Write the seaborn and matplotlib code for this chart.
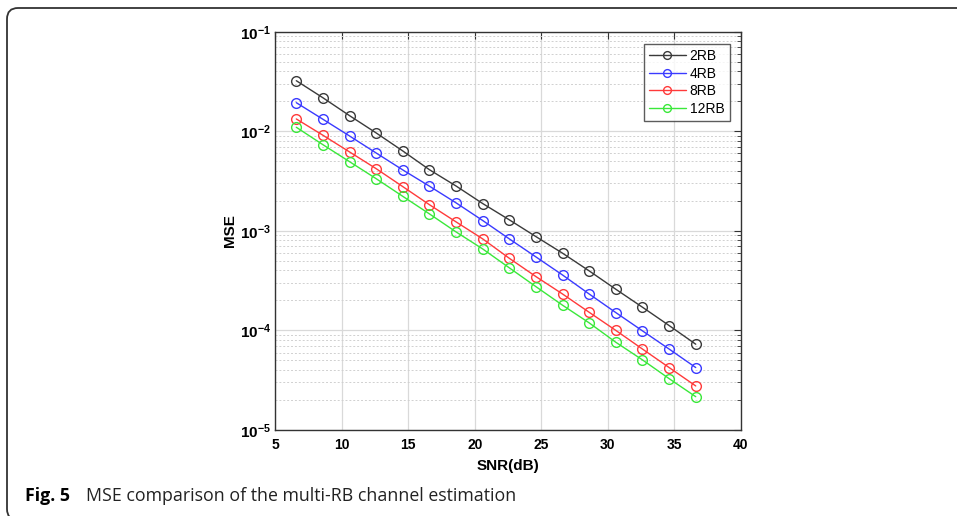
import matplotlib
matplotlib.use("Agg")
import matplotlib.pyplot as plt
import matplotlib.ticker as mticker
import matplotlib.transforms as mtransforms
from matplotlib.patches import FancyBboxPatch
import numpy as np
import pandas as pd
import seaborn as sns

# ---------------- data ----------------
snr_db = [6.6, 8.6, 10.6, 12.6, 14.6, 16.6, 18.6, 20.6, 22.6, 24.6, 26.6, 28.6, 30.6, 32.6, 34.6, 36.6]
mse_2rb = [0.0322, 0.0217, 0.01435, 0.00962, 0.00634, 0.00411, 0.00282, 0.00188, 0.00129,
           8.75e-4, 5.96e-4, 3.96e-4, 2.59e-4, 1.71e-4, 1.12e-4, 7.27e-5]
mse_4rb = [0.01937, 0.0132, 0.00897, 0.00605, 0.00409, 0.00281, 0.00191, 0.00127, 8.3e-4,
           5.47e-4, 3.6e-4, 2.32e-4, 1.51e-4, 9.9e-5, 6.5e-5, 4.24e-5]
mse_8rb = [0.0133, 0.00912, 0.0062, 0.00421, 0.00278, 0.00183, 0.00123, 8.3e-4, 5.3e-4,
           3.47e-4, 2.32e-4, 1.52e-4, 1.0e-4, 6.5e-5, 4.24e-5, 2.77e-5]
mse_12rb = [0.01097, 0.00733, 0.00495, 0.00334, 0.00222, 0.00148, 9.75e-4, 6.58e-4, 4.25e-4,
            2.75e-4, 1.79e-4, 1.19e-4, 7.6e-5, 5.06e-5, 3.28e-5, 2.16e-5]
series_names = ["2RB", "4RB", "8RB", "12RB"]
series_values = [mse_2rb, mse_4rb, mse_8rb, mse_12rb]
x_ticks = [5, 10, 15, 20, 25, 30, 35, 40]
y_ticks = [1e-5, 1e-4, 1e-3, 1e-2, 1e-1]
x_label = "SNR(dB)"
y_label = "MSE"
caption_bold = "Fig. 5"
caption_text = "MSE comparison of the multi-RB channel estimation"

colors = ["#3a3a3a", "#3a3aff", "#ff3a3a", "#3ae83a"]

# ---------------- style ----------------
sns.set_theme(style="white")
plt.rcParams["font.family"] = ["Liberation Sans", "DejaVu Sans"]
plt.rcParams["mathtext.fontset"] = "custom"
plt.rcParams["mathtext.rm"] = "Liberation Sans:bold"
plt.rcParams["mathtext.bf"] = "Liberation Sans:bold"
plt.rcParams["mathtext.it"] = "Liberation Sans:bold"
plt.rcParams["text.color"] = "black"
plt.rcParams["axes.labelcolor"] = "black"

W, H = 957, 516
fig = plt.figure(figsize=(W / 100, H / 100), dpi=100)
fig.patch.set_facecolor("white")

# outer rounded frame (pixel coordinates, origin bottom-left)
frame = FancyBboxPatch((7, H - 520), W + 40, 520 - 8,
                       boxstyle="round,pad=0,rounding_size=11",
                       transform=mtransforms.IdentityTransform(), fill=False,
                       edgecolor="#333333", linewidth=1.3, clip_on=False)
fig.patches.append(frame)

left, right, top, bottom = 275, 741, 31.7, 430
ax = fig.add_axes([left / W, 1 - bottom / H, (right - left) / W, (bottom - top) / H])

rows = []
for name, vals in zip(series_names, series_values):
    for x, v in zip(snr_db, vals):
        rows.append({"SNR": x, "MSE": v, "series": name})
df = pd.DataFrame(rows)

for name, col in zip(series_names, colors):
    sub = df[df["series"] == name]
    sns.lineplot(data=sub, x="SNR", y="MSE", ax=ax, color=col, linewidth=1.0,
                 marker="o", markersize=7, markerfacecolor="none",
                 markeredgecolor=col, markeredgewidth=1.0, label=name)

ax.set_yscale("log")
ax.set_xlim(5, 40)
ax.set_ylim(1e-5, 1e-1)
ax.set_xticks(x_ticks)
ax.set_xticklabels([str(t) for t in x_ticks], fontweight="bold", fontsize=10)
ax.yaxis.set_major_locator(mticker.FixedLocator(y_ticks))
ax.yaxis.set_major_formatter(mticker.FuncFormatter(
    lambda v, p: r"$\mathbf{10^{%d}}$" % int(round(np.log10(v)))))
ax.yaxis.set_minor_locator(mticker.LogLocator(base=10, subs=np.arange(2, 10), numticks=20))
ax.yaxis.set_minor_formatter(mticker.NullFormatter())
for lab in ax.get_yticklabels():
    lab.set_fontsize(11)

ax.tick_params(axis="both", which="both", direction="in", top=True, right=True,
               colors="#333333", labelcolor="black")
ax.tick_params(axis="both", which="major", length=5, width=0.8)
ax.tick_params(axis="x", which="major", pad=6)
ax.tick_params(axis="y", which="major", pad=3)
ax.tick_params(axis="y", which="minor", length=3, width=0.6)

ax.grid(True, which="major", color="#d9d9d9", linestyle="-", linewidth=0.9)
ax.grid(True, which="minor", axis="y", color="#d0d0d0", linestyle=(0, (2, 2)), linewidth=0.7)
ax.set_axisbelow(True)
for s in ax.spines.values():
    s.set_color("#333333")
    s.set_linewidth(1.0)
    s.set_visible(True)

ax.set_xlabel(x_label, fontweight="bold", fontsize=11, labelpad=5, color="black")
ax.set_ylabel(y_label, fontweight="bold", fontsize=11, labelpad=2, color="black")

leg = ax.legend(loc="upper right", bbox_to_anchor=(1 - 11 / (right - left), 1 - 12 / (bottom - top)),
                frameon=True, fancybox=False, edgecolor="#333333", fontsize=10,
                handlelength=2.6, handletextpad=0.3, borderpad=0.4, labelspacing=0.25,
                borderaxespad=0, markerscale=0.8)
leg.get_frame().set_linewidth(1.0)
for t in leg.get_texts():
    t.set_color("black")

# caption
fig.text(25 / W, 1 - 501 / H, caption_bold, fontweight="bold", fontsize=12.8,
         family=["Open Sans", "DejaVu Sans"], ha="left", va="baseline", color="black")
fig.text(86 / W, 1 - 501 / H, caption_text, fontsize=12.8,
         family=["Open Sans", "DejaVu Sans"], ha="left", va="baseline", color="#222222")

fig.savefig("out.png", dpi=100, facecolor="white")
